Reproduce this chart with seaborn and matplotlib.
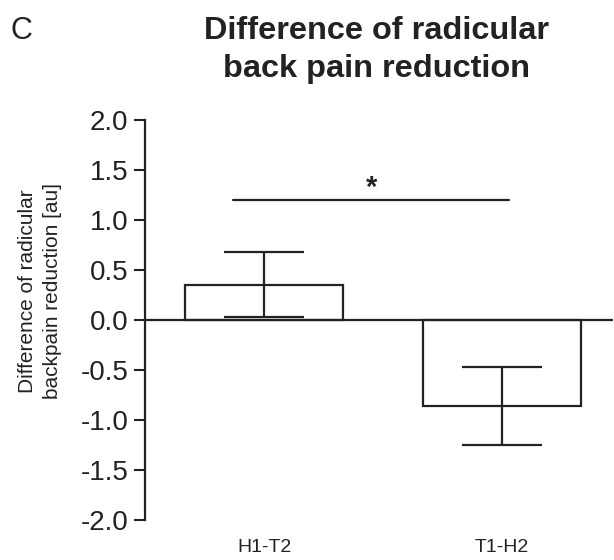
import matplotlib
matplotlib.use("Agg")
import matplotlib.pyplot as plt
import seaborn as sns
import pandas as pd

# ---- data ----
categories = ["H1-T2", "T1-H2"]
means = [0.355, -0.857]
errors = [0.325, 0.39]
y_ticks = [-2.0, -1.5, -1.0, -0.5, 0.0, 0.5, 1.0, 1.5, 2.0]
title = "Difference of radicular\nback pain reduction"
ylabel = "Difference of radicular\nbackpain reduction [au]"
panel_letter = "C"
sig_label = "*"
sig_level = 1.2
sig_span = [-0.13, 1.03]

sns.set_theme(style="white")
plt.rcParams["font.family"] = ["Liberation Sans", "DejaVu Sans"]

df = pd.DataFrame({"group": categories, "value": means})

fig = plt.figure(figsize=(6.14, 5.6), dpi=100)
ax = fig.add_axes([145 / 614, 1 - 520 / 560, (613 - 145) / 614, 400 / 560])

sns.barplot(data=df, x="group", y="value", ax=ax, color="white",
            edgecolor="#222222", linewidth=1.6, width=0.664, errorbar=None)
for p in ax.patches:
    p.set_facecolor("white")

ax.errorbar(range(len(categories)), means, yerr=errors, fmt="none",
            ecolor="#222222", elinewidth=1.6, capsize=29, capthick=1.6)

ax.axhline(0, color="#222222", lw=1.6, zorder=5)
ax.plot(sig_span, [sig_level, sig_level], color="#222222", lw=1.6)
ax.text(sum(sig_span) / 2, sig_level - 0.02, sig_label, ha="center",
        va="bottom", fontsize=21, fontweight="bold", color="#222222")

ax.set_ylim(-2, 2)
ax.set_xlim(-0.5, 1.466)
ax.set_yticks(y_ticks)
ax.set_yticklabels([f"{t:.1f}" for t in y_ticks], fontsize=20, color="#222222")
ax.set_xticks(range(len(categories)))
ax.set_xticklabels(categories, fontsize=14, color="#222222")
ax.tick_params(axis="x", length=0, pad=14)
ax.tick_params(axis="y", length=8, width=1.5, color="#222222", pad=4,
               left=True, direction="out")
for s in ["top", "right", "bottom"]:
    ax.spines[s].set_visible(False)
ax.spines["left"].set_color("#222222")
ax.spines["left"].set_linewidth(1.6)
ax.set_xlabel("")
ax.set_ylabel(ylabel, fontsize=15, color="#222222", linespacing=1.35)
ax.yaxis.set_label_coords(-0.178, 0.572)

fig.text(376 / 614, 1 - 50 / 560, title, ha="center", va="center",
         fontsize=23.4, fontweight="bold", color="#222222", linespacing=1.33)
fig.text(11 / 614, 1 - 31 / 560, panel_letter, ha="left", va="center",
         fontsize=22, color="#222222")

fig.savefig("out.png", dpi=100)
